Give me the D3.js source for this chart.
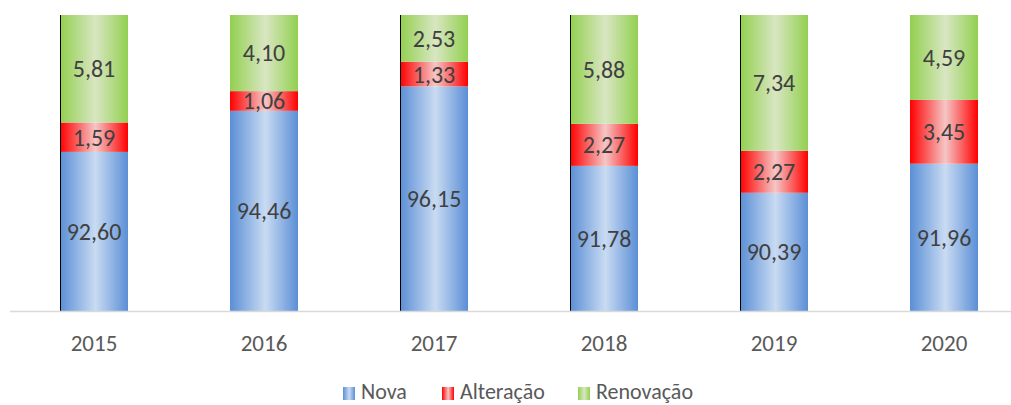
<!DOCTYPE html>
<html><head><meta charset="utf-8">
<script src="https://cdn.jsdelivr.net/npm/d3@7"></script>
<style>body{margin:0;background:#fff}svg{display:block}</style>
</head><body>
<script>
const years = ["2015","2016","2017","2018","2019","2020"];
const nova = [92.60, 94.46, 96.15, 91.78, 90.39, 91.96];
const alteracao = [1.59, 1.06, 1.33, 2.27, 2.27, 3.45];
const renovacao = [5.81, 4.10, 2.53, 5.88, 7.34, 4.59];
const seriesNames = ["Nova","Alteração","Renovação"];
const yDomain = [0.84, 1.00]; // 100% stacked axis, starting at 84%

const W = 1011, H = 405;
const svg = d3.select("body").append("svg").attr("width", W).attr("height", H);
const font = "Carlito, Calibri, 'Liberation Sans Narrow', 'Liberation Sans', sans-serif";

const defs = svg.append("defs");
const grads = [
  {id:"gBlue", edge:"#5b8fd6", mid:"#c9dbf2"},
  {id:"gRed", edge:"#ff0000", mid:"#f5c6c6"},
  {id:"gGreen", edge:"#92d050", mid:"#d9e6c2"}
];
grads.forEach(g => {
  const lg = defs.append("linearGradient").attr("id", g.id).attr("x1","0%").attr("x2","100%").attr("y1","0%").attr("y2","0%");
  lg.append("stop").attr("offset","0%").attr("stop-color", g.edge);
  lg.append("stop").attr("offset","52%").attr("stop-color", g.mid);
  lg.append("stop").attr("offset","100%").attr("stop-color", g.edge);
});

const x = d3.scaleBand().domain(years).range([9, 1029]).paddingInner(0.6).paddingOuter(0.3);
const y = d3.scaleLinear().domain(yDomain).range([311, 15]);

const data = years.map((yr, i) => ({year: yr, Nova: nova[i], "Alteração": alteracao[i], "Renovação": renovacao[i]}));
const stack = d3.stack().keys(seriesNames).offset(d3.stackOffsetExpand)(data);

const g = svg.append("g");
stack.forEach((s, si) => {
  g.selectAll(null).data(s).enter().append("rect")
    .attr("x", d => x(d.data.year))
    .attr("width", x.bandwidth())
    .attr("y", d => y(d[1]))
    .attr("height", d => y(Math.max(d[0], yDomain[0])) - y(d[1]))
    .attr("fill", `url(#${grads[si].id})`);
});

// thin dark left edges seen on some bars in the original rendering
const darkEdgeIdx = [0, 2, 3, 4];
g.selectAll(null).data(darkEdgeIdx).enter().append("line")
  .attr("x1", i => x(years[i]) + 0.5).attr("x2", i => x(years[i]) + 0.5)
  .attr("y1", y(yDomain[1])).attr("y2", y(yDomain[0]))
  .attr("stroke", "#000").attr("stroke-width", 1);

// axis line
svg.append("line").attr("x1", 10).attr("x2", W).attr("y1", 311.5).attr("y2", 311.5)
  .attr("stroke", "#d9d9d9").attr("stroke-width", 1.5);

// labels (raw values)
stack.forEach((s, si) => {
  svg.selectAll(null).data(s).enter().append("text")
    .attr("x", d => x(d.data.year) + x.bandwidth()/2)
    .attr("y", d => (y(Math.max(d[0], yDomain[0])) + y(d[1]))/2)
    .attr("dy", "0.35em")
    .attr("text-anchor","middle")
    .attr("font-family", font).attr("font-size", 24).attr("fill", "#404040")
    .text(d => d.data[s.key].toFixed(2).replace(".", ","));
});

// x tick labels
const xAxis = svg.append("g").attr("transform","translate(0,311)")
  .call(d3.axisBottom(x).tickSize(0).tickPadding(0));
xAxis.select(".domain").remove();
xAxis.selectAll("text").attr("font-family", font).attr("font-size", 23).attr("fill", "#595959")
  .attr("dy", null).attr("y", 40);

// legend
const legendX = [343, 442, 578];
const lg = svg.append("g");
seriesNames.forEach((n, i) => {
  lg.append("rect").attr("x", legendX[i]).attr("y", 387).attr("width", 12).attr("height", 13)
    .attr("fill", `url(#${grads[i].id})`);
  lg.append("text").attr("x", legendX[i] + 18).attr("y", 399)
    .attr("font-family", font).attr("font-size", 22).attr("fill", "#595959").text(n);
});
</script>
</body></html>
